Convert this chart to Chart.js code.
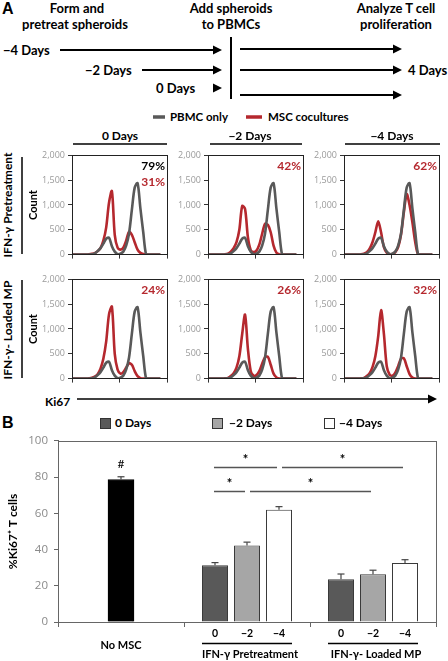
<!DOCTYPE html>
<html>
<head>
<meta charset="utf-8">
<script src="https://cdn.jsdelivr.net/npm/chart.js@4.4.1/dist/chart.umd.min.js"></script>
<style>
  html, body { margin: 0; padding: 0; background: #fff; }
  #fig { position: relative; width: 448px; height: 661px; overflow: hidden;
         font-family: Lato, "Open Sans", sans-serif; font-weight: 700; color: #000; }
  .t { position: absolute; white-space: nowrap; line-height: 1; }
  canvas { position: absolute; }
  svg { position: absolute; left: 0; top: 0; }
</style>
</head>
<body>
<div id="fig">
  <svg id="lines" width="448" height="661"></svg>
</div>
<script>
// ---- histogram data (Ki67 intensity bins, cell counts) ----
const KI67_BINS = [0, 3, 6, 9, 12, 15, 18, 21, 24, 27, 30, 33, 36, 39, 42, 45, 48, 51, 54, 57, 60, 63, 66, 69, 72, 75, 78, 81, 84, 87, 90, 93];
const PBMC_ONLY = [0, 0, 0, 0, 0, 0, 0, 5, 25, 70, 130, 220, 320, 340, 170, 60, 10, 20, 60, 180, 420, 900, 1350, 1440, 930, 450, 0, 0, 0, 0, 0, 0];
const PRE_0 = [0, 0, 0, 0, 0, 0, 5, 15, 30, 70, 130, 280, 550, 1050, 1280, 400, 140, 100, 140, 280, 460, 400, 250, 100, 35, 10, 0, 0, 0, 0, 0, 0];
const PRE_2 = [0, 0, 0, 0, 0, 0, 5, 20, 60, 130, 250, 500, 980, 920, 350, 90, 50, 80, 200, 420, 620, 600, 450, 180, 40, 5, 0, 0, 0, 0, 0, 0];
const PRE_4 = [0, 0, 0, 0, 0, 0, 5, 20, 50, 120, 250, 450, 670, 450, 150, 40, 10, 15, 50, 150, 400, 850, 1220, 1000, 650, 250, 0, 0, 0, 0, 0, 0];
const MP_0 = [0, 0, 0, 0, 0, 0, 5, 15, 40, 90, 200, 400, 750, 1300, 1450, 500, 180, 100, 130, 220, 310, 280, 150, 50, 10, 0, 0, 0, 0, 0, 0, 0];
const MP_2 = [0, 0, 0, 0, 0, 0, 5, 15, 50, 110, 220, 450, 900, 1290, 600, 150, 60, 70, 150, 300, 430, 440, 280, 100, 25, 0, 0, 0, 0, 0, 0, 0];
const MP_4 = [0, 0, 0, 0, 0, 0, 5, 15, 50, 110, 230, 450, 850, 1380, 900, 250, 80, 60, 120, 250, 400, 410, 250, 90, 20, 0, 0, 0, 0, 0, 0, 0];

const HIST_SERIES = ['PBMC only', 'MSC cocultures'];
const COLUMN_LABELS = ['0 Days', '\u22122 Days', '\u22124 Days'];
const ROW_LABELS = ['IFN-\u03b3 Pretreatment', 'IFN-\u03b3- Loaded MP'];
const PCT_PBMC = '79%';
const PCT_PRE = ['31%', '42%', '62%'];
const PCT_MP = ['24%', '26%', '32%'];

// ---- bar chart data (%Ki67+ T cells) ----
const GROUPS = ['No MSC', 'IFN-\u03b3 Pretreatment', 'IFN-\u03b3- Loaded MP'];
const DAY_SERIES = ['0 Days', '\u22122 Days', '\u22124 Days'];
const DAY_TICKS = ['0', '\u22122', '\u22124'];
const NO_MSC = [78.7, null, null];
const NO_MSC_ERR = [1.5, null, null];
const DAY_0 = [null, 31.3, 23.6];
const DAY_0_ERR = [null, 1.5, 2.9];
const DAY_2 = [null, 42.3, 26.4];
const DAY_2_ERR = [null, 1.8, 2.2];
const DAY_4 = [null, 62, 32.6];
const DAY_4_ERR = [null, 1.7, 1.8];
// [dataset, group] -> [dataset, group], at this % level
const SIG_LINES = [
  [[0, 1], [2, 1], 85.5],
  [[2, 1], [2, 2], 85.5],
  [[0, 1], [1, 1], 72.5],
  [[1, 1], [1, 2], 72.5],
];

const RED = '#b5282e';
const GRAY = '#595959';
const fig = document.getElementById('fig');
const svg = document.getElementById('lines');

// text helpers
function text(str, x, cy, size, align, extra) {
  const d = document.createElement('div');
  d.className = 't';
  d.textContent = str;
  d.style.fontSize = size + 'px';
  d.style.left = x + 'px';
  d.style.top = cy + 'px';
  const tx = align === 'center' ? '-50%' : align === 'right' ? '-100%' : '0';
  d.style.transform = `translate(${tx}, -50%)` + (extra && extra.rotate ? ` rotate(${extra.rotate}deg)` : '');
  if (extra && extra.font) d.style.fontFamily = extra.font;
  if (extra && extra.color) d.style.color = extra.color;
  fig.appendChild(d);
  return d;
}
function svgEl(tag, attrs) {
  const e = document.createElementNS('http://www.w3.org/2000/svg', tag);
  for (const k in attrs) e.setAttribute(k, attrs[k]);
  svg.appendChild(e);
}
function hline(x1, x2, y, w, color) {
  svgEl('line', { x1, x2, y1: y, y2: y, stroke: color || '#000', 'stroke-width': w || 2 });
}
function vline(x, y1, y2, w) {
  svgEl('line', { x1: x, x2: x, y1, y2, stroke: '#000', 'stroke-width': w || 2 });
}
function arrow(x1, x2, y, w, head) {
  head = head || 9;
  if (x2 - head > x1) hline(x1, x2 - head + 1, y, w);
  svgEl('polygon', { points: `${x2},${y} ${x2 - head},${y - head / 2} ${x2 - head},${y + head / 2}`, fill: '#000' });
}

// ---- panel A schematic ----
text('A', 2, 9, 16, 'left', { font: '"Liberation Sans", Arial, sans-serif' });
text('Form and', 77, 8, 13, 'center');
text('pretreat spheroids', 75, 24, 13, 'center');
text('Add spheroids', 231, 8, 13, 'center');
text('to PBMCs', 231, 24, 13, 'center');
text('Analyze T cell', 396, 8, 13, 'center');
text('proliferation', 396, 24, 13, 'center');
text('\u22124 Days', 3, 50, 13, 'left');
text('\u22122 Days', 85, 70, 13, 'left');
text('0 Days', 156, 88, 13, 'left');
text('4 Days', 408, 70, 13, 'left');
arrow(60, 222, 50, 2);
arrow(142, 222, 70, 2);
arrow(213, 222, 88, 2);
vline(231, 37, 99, 2);
arrow(240, 402, 49, 2);
arrow(240, 402, 70, 2);
arrow(240, 402, 95, 2);

// histogram legend
hline(153, 165, 117, 3.5, GRAY);
text(HIST_SERIES[0], 170, 117, 11.5, 'left');
hline(246, 262, 117, 3.5, RED);
text(HIST_SERIES[1], 268, 117, 11.5, 'left');

// ---- histograms ----
const frame = {
  id: 'frame',
  afterDraw(chart, args, opts) {
    if (!opts.color) return;
    const { ctx, chartArea: a } = chart;
    ctx.save();
    ctx.strokeStyle = opts.color;
    ctx.lineWidth = 1;
    ctx.strokeRect(Math.round(a.left) + 0.5, Math.round(a.top) + 0.5,
      Math.round(a.right - a.left), Math.round(a.bottom - a.top));
    ctx.restore();
  }
};
const cornerText = {
  id: 'cornerText',
  afterDatasetsDraw(chart, args, opts) {
    if (!opts.items) return;
    const { ctx, chartArea: a } = chart;
    ctx.save();
    ctx.font = 'bold 12px Lato';
    ctx.textAlign = 'right';
    ctx.textBaseline = 'middle';
    opts.items.forEach((it, i) => {
      ctx.fillStyle = it.color;
      ctx.fillText(it.text, a.right - 2, a.top + 11 + i * 15.5);
    });
    ctx.restore();
  }
};
Chart.register(frame, cornerText);

const PANEL_X = [72, 208, 344];
const PANEL_Y = [155, 279];

function histogram(row, col, red, pctItems) {
  const cv = document.createElement('canvas');
  cv.width = 144; cv.height = 116;
  cv.style.left = (PANEL_X[col] - 45) + 'px';
  cv.style.top = (PANEL_Y[row] - 8) + 'px';
  fig.appendChild(cv);
  const pts = arr => KI67_BINS.map((x, i) => ({ x, y: arr[i] }));
  new Chart(cv, {
    type: 'line',
    data: {
      datasets: [
        { label: HIST_SERIES[0], data: pts(PBMC_ONLY), borderColor: GRAY, borderWidth: 2.6, pointRadius: 0, tension: 0.3 },
        { label: HIST_SERIES[1], data: pts(red), borderColor: RED, borderWidth: 2.6, pointRadius: 0, tension: 0.3 },
      ]
    },
    options: {
      responsive: false,
      animation: false,
      devicePixelRatio: 1,
      layout: { padding: { top: 8, right: 4, left: 0, bottom: 0 } },
      plugins: {
        legend: { display: false },
        tooltip: { enabled: false },
        frame: { color: '#222' },
        cornerText: { items: pctItems },
      },
      scales: {
        x: {
          type: 'linear', min: 0, max: 100,
          afterFit: s => { s.height = 8; },
          ticks: { display: false, stepSize: 50 },
          grid: { drawOnChartArea: false, tickLength: 4, color: '#333' },
          border: { color: '#333' },
        },
        y: {
          min: 0, max: 2000,
          afterFit: s => { s.width = 45; },
          ticks: {
            stepSize: 500, padding: 3, color: '#9a9a9a',
            font: { family: 'Open Sans', size: 9 },
            callback: v => v.toLocaleString('en-US'),
          },
          grid: { drawOnChartArea: false, tickLength: 4, color: '#333' },
          border: { color: '#333' },
          title: {
            display: col === 0, text: 'Count', color: '#000',
            font: { family: 'Lato', weight: 'bold', size: 11 },
            padding: { top: 0, bottom: 0 },
          },
        },
      },
    },
  });
}

[PRE_0, PRE_2, PRE_4].forEach((s, c) => {
  const items = [{ text: PCT_PRE[c], color: RED }];
  if (c === 0) items.unshift({ text: PCT_PBMC, color: '#000' });
  histogram(0, c, s, items);
});
[MP_0, MP_2, MP_4].forEach((s, c) => histogram(1, c, s, [{ text: PCT_MP[c], color: RED }]));

// column headers, row labels
[[120, 73, 167], [250, 210, 302], [392, 345, 440]].forEach(([cx, x1, x2], i) => {
  text(COLUMN_LABELS[i], cx, 136, 12, 'center');
  hline(x1, x2, 144, 1.5);
});
text(ROW_LABELS[0], 8, 205, 12, 'center', { rotate: -90 });
vline(22, 157, 254, 1.5);
text(ROW_LABELS[1], 8, 330, 12, 'center', { rotate: -90 });
vline(22, 280, 378, 1.5);
text('Ki67', 45, 402, 12, 'left');
arrow(77, 437, 399, 1.5, 9);

// ---- panel B ----
text('B', 2, 423, 16, 'left', { font: '"Liberation Sans", Arial, sans-serif' });
const SWATCH = ['#595959', '#a6a6a6', '#ffffff'];
[[100, 115], [212, 229], [324, 339]].forEach(([sx, tx], i) => {
  svgEl('rect', { x: sx + 0.5, y: 418.5, width: 10, height: 10, fill: SWATCH[i], stroke: '#333', 'stroke-width': 1 });
  text(DAY_SERIES[i], tx, 423, 12, 'left');
});

const ERRORS = [DAY_0_ERR, DAY_2_ERR, DAY_4_ERR, NO_MSC_ERR];
const barExtras = {
  id: 'barExtras',
  afterDraw(chart) {
    const { ctx, chartArea: a, scales: { y } } = chart;
    const el = (d, g) => chart.getDatasetMeta(d).data[g];
    const seg = (x1, y1, x2, y2) => { ctx.beginPath(); ctx.moveTo(x1, y1); ctx.lineTo(x2, y2); ctx.stroke(); };
    ctx.save();
    // error bars
    ctx.strokeStyle = '#444';
    ctx.lineWidth = 1.2;
    chart.data.datasets.forEach((ds, di) => {
      ds.data.forEach((v, g) => {
        const e = ERRORS[di][g];
        if (v == null || e == null) return;
        const b = el(di, g);
        const yt = y.getPixelForValue(v + e);
        seg(b.x, b.y, b.x, yt);
        seg(b.x - 3.5, yt, b.x + 3.5, yt);
      });
    });
    // # over No MSC
    ctx.fillStyle = '#000';
    ctx.font = '12px Lato';
    ctx.textAlign = 'center';
    ctx.textBaseline = 'middle';
    const nb = el(3, 0);
    ctx.fillText('#', nb.x, y.getPixelForValue(NO_MSC[0] + NO_MSC_ERR[0]) - 13);
    // significance lines
    ctx.strokeStyle = '#555';
    ctx.lineWidth = 1.5;
    ctx.font = 'bold 13px Lato';
    ctx.textBaseline = 'alphabetic';
    SIG_LINES.forEach(([f, t, lvl], i) => {
      const x1 = el(f[0], f[1]).x + (i % 2 ? 3 : -1);
      const x2 = el(t[0], t[1]).x - 2;
      const py = Math.round(y.getPixelForValue(lvl)) + 0.5;
      seg(x1, py, x2, py);
      ctx.fillText('*', (x1 + x2) / 2, py - 4);
    });
    // x labels
    ctx.strokeStyle = '#000';
    ctx.lineWidth = 1.3;
    ctx.textBaseline = 'middle';
    for (let g = 1; g < GROUPS.length; g++) {
      ctx.font = 'bold 10.5px Lato';
      [0, 1, 2].forEach(d => ctx.fillText(DAY_TICKS[d], el(d, g).x, a.bottom + 12));
      const first = el(0, g), last = el(2, g);
      seg(first.x - first.width / 2, a.bottom + 21.5, last.x + last.width / 2, a.bottom + 21.5);
      ctx.font = 'bold 11px Lato';
      ctx.fillText(GROUPS[g], el(1, g).x + 3, a.bottom + 32);
    }
    ctx.fillText(GROUPS[0], nb.x, a.bottom + 23);
    ctx.restore();
  }
};

const bcv = document.createElement('canvas');
bcv.width = 448; bcv.height = 233;
bcv.style.left = '0px';
bcv.style.top = '428px';
fig.appendChild(bcv);

const barStyle = { borderColor: '#3a3a3a', borderWidth: 1, categoryPercentage: 0.762, barPercentage: 0.8125 };
new Chart(bcv, {
  type: 'bar',
  data: {
    labels: GROUPS,
    datasets: [
      { label: DAY_SERIES[0], data: DAY_0, backgroundColor: SWATCH[0], ...barStyle },
      { label: DAY_SERIES[1], data: DAY_2, backgroundColor: SWATCH[1], ...barStyle },
      { label: DAY_SERIES[2], data: DAY_4, backgroundColor: SWATCH[2], ...barStyle },
      { label: GROUPS[0], data: NO_MSC, backgroundColor: '#000', borderColor: '#000', borderWidth: 1, grouped: false, barThickness: 26 },
    ]
  },
  options: {
    responsive: false,
    animation: false,
    devicePixelRatio: 1,
    layout: { padding: { top: 12, right: 12, left: 0, bottom: 0 } },
    plugins: {
      legend: { display: false },
      tooltip: { enabled: false },
      frame: { color: '#666' },
    },
    scales: {
      x: {
        afterFit: s => { s.height = 39; },
        ticks: { display: false },
        grid: { drawOnChartArea: false, tickLength: 5, color: '#666' },
        border: { color: '#666' },
      },
      y: {
        min: 0, max: 100,
        afterFit: s => { s.width = 58; },
        ticks: { stepSize: 20, padding: 6, color: '#8a8a8a', font: { family: 'Open Sans', size: 11.5 } },
        grid: { drawOnChartArea: false, tickLength: 4, color: '#666' },
        border: { color: '#666' },
        title: {
          display: true, text: '%Ki67\u207a T cells', color: '#000',
          font: { family: 'Lato', weight: 'bold', size: 12 },
          padding: { top: 6, bottom: 0 },
        },
      },
    },
  },
  plugins: [barExtras],
});
</script>
</body>
</html>
